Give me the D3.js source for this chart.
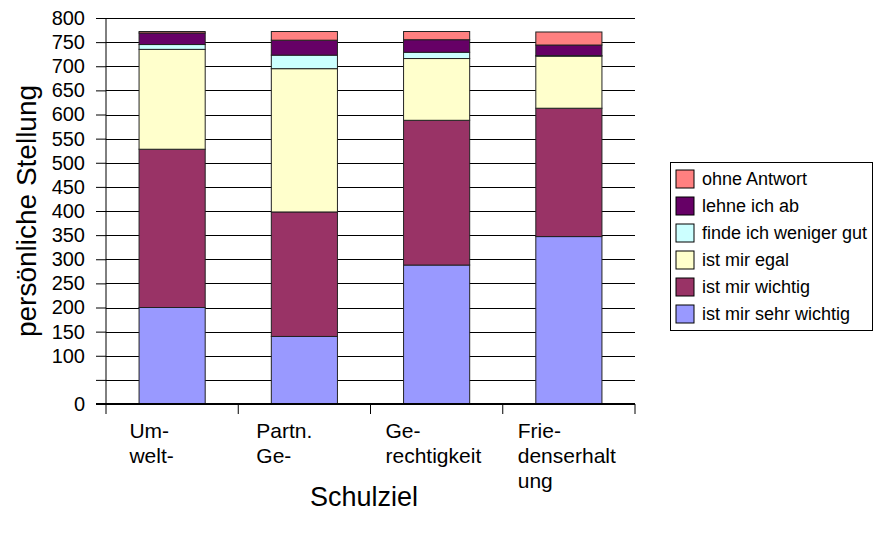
<!doctype html>
<html>
<head>
    <meta charset="UTF-8">
    <title>Schulziel</title>
    <script src="https://d3js.org/d3.v7.min.js"></script>
    <style>
        body { margin: 0; background: #fff; }
        text { font-family: "Liberation Sans", Arial, sans-serif; fill: #000; }
    </style>
</head>
<body>
<script>
    // categories (x axis), wrapped the way the original shows them
    var categories = ["Umwelt", "Partn. Ge", "Gerechtigkeit", "Friedenserhaltung"];
    var catLines = [["Um-", "welt-"], ["Partn.", "Ge-"], ["Ge-", "rechtigkeit"], ["Frie-", "denserhalt", "ung"]];

    // series, bottom to top
    var seriesNames = ["ist mir sehr wichtig", "ist mir wichtig", "ist mir egal",
                       "finde ich weniger gut", "lehne ich ab", "ohne Antwort"];
    var sehrWichtig = [200, 140, 288, 347];
    var wichtig     = [328, 258, 300, 266];
    var egal        = [207, 297, 128, 108];
    var wenigerGut  = [10, 28, 13, 1];
    var lehneAb     = [24, 31, 26, 22];
    var ohneAntwort = [3, 18, 17, 27];
    var colors = ["#9999FF", "#993366", "#FFFFCC", "#CCFFFF", "#660066", "#FF8080"];

    var yTicks = d3.range(0, 801, 50);

    var w = 875, h = 534;
    var pLeft = 106, pRight = 635, pTop = 18, pBottom = 404;

    var svg = d3.select("body").append("svg")
        .attr("width", w)
        .attr("height", h);

    var allSeries = [sehrWichtig, wichtig, egal, wenigerGut, lehneAb, ohneAntwort];
    var rows = categories.map(function(c, i) {
        var r = { cat: c };
        seriesNames.forEach(function(s, j) { r[s] = allSeries[j][i]; });
        return r;
    });
    var stacked = d3.stack().keys(seriesNames)(rows);

    var x = d3.scaleBand().domain(categories).range([pLeft, pRight])
        .paddingInner(0.5).paddingOuter(0.25);
    var y = d3.scaleLinear().domain([0, 800]).range([pBottom, pTop]);

    // gridlines
    svg.append("g").selectAll("line").data(yTicks.filter(function(d) { return d > 0; }))
        .enter().append("line")
        .attr("x1", pLeft).attr("x2", pRight)
        .attr("y1", function(d) { return Math.round(y(d)) + 0.5; })
        .attr("y2", function(d) { return Math.round(y(d)) + 0.5; })
        .attr("stroke", "#000").attr("stroke-width", 1);

    // bars
    var layers = svg.append("g").selectAll("g").data(stacked).enter().append("g")
        .attr("fill", function(d, i) { return colors[i]; });
    layers.selectAll("rect").data(function(d) { return d; }).enter().append("rect")
        .attr("x", function(d) { return x(d.data.cat); })
        .attr("width", x.bandwidth())
        .attr("y", function(d) { return y(d[1]); })
        .attr("height", function(d) { return y(d[0]) - y(d[1]); })
        .attr("stroke", "#222").attr("stroke-width", 1);

    // y axis
    var yAxis = d3.axisLeft(y).tickValues(yTicks).tickSize(10).tickPadding(11)
        .tickFormat(function(d) { return d === 50 ? "" : d; });
    var gy = svg.append("g").attr("transform", "translate(" + pLeft + ",0)").call(yAxis);
    gy.select(".domain").attr("stroke", "#000").attr("d", "M0," + pTop + "V" + pBottom);
    gy.selectAll("text").style("font-size", "20px").style("font-family", "Liberation Sans, Arial, sans-serif");

    // x axis line + ticks at band boundaries
    svg.append("line").attr("x1", pLeft - 10).attr("x2", pRight)
        .attr("y1", pBottom).attr("y2", pBottom)
        .attr("stroke", "#000").attr("stroke-width", 2);
    var bounds = categories.map(function(c) { return x(c) - x.step() * 0.25; });
    bounds.push(pRight);
    svg.append("g").selectAll("line").data(bounds).enter().append("line")
        .attr("x1", function(d) { return d; }).attr("x2", function(d) { return d; })
        .attr("y1", pBottom).attr("y2", pBottom + 10)
        .attr("stroke", "#000").attr("stroke-width", 1);

    // category labels (left aligned block)
    categories.forEach(function(c, i) {
        var t = svg.append("text").style("font-size", "21px");
        catLines[i].forEach(function(line, k) {
            t.append("tspan").attr("x", 0).attr("y", 438 + k * 25).text(line);
        });
        var bw = t.node().getBBox().width;
        var start = x(c) - x.step() * 0.25;
        var off = Math.max(15, (x.step() - bw) / 2 - 20);
        t.selectAll("tspan").attr("x", start + off);
    });

    // axis titles
    svg.append("text")
        .attr("x", 364).attr("y", 506)
        .attr("text-anchor", "middle")
        .style("font-size", "27px")
        .text("Schulziel");

    svg.append("text")
        .attr("transform", "translate(36," + (pTop + pBottom) / 2 + ") rotate(-90)")
        .attr("text-anchor", "middle")
        .style("font-size", "28px")
        .text("persönliche Stellung");

    // legend
    var lg = svg.append("g");
    lg.append("rect").attr("x", 670.5).attr("y", 162.5).attr("width", 202).attr("height", 168)
        .attr("fill", "#fff").attr("stroke", "#000").attr("stroke-width", 1);
    var order = seriesNames.slice().reverse();
    var items = lg.selectAll("g.item").data(order).enter().append("g")
        .attr("transform", function(d, i) { return "translate(676," + (170 + i * 27) + ")"; });
    items.append("rect").attr("width", 18).attr("height", 18)
        .attr("fill", function(d) { return colors[seriesNames.indexOf(d)]; })
        .attr("stroke", "#000").attr("stroke-width", 1);
    items.append("text").attr("x", 26).attr("y", 15)
        .style("font-size", "18px")
        .text(function(d) { return d; });
</script>
</body>
</html>
